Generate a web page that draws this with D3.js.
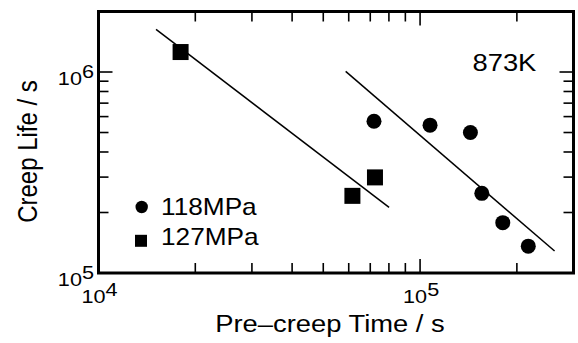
<!DOCTYPE html>
<html>
<head>
<meta charset="utf-8">
<script src="https://cdn.jsdelivr.net/npm/d3@7"></script>
<style>
  html, body { margin: 0; padding: 0; background: #fff; }
  svg { display: block; }
  text { font-family: "Liberation Sans", Arial, Helvetica, sans-serif; fill: #000; }
</style>
</head>
<body>
<svg id="chart" width="578" height="343"></svg>
<script>
// ---- data ----
const series118Time = [7.19e4, 1.074e5, 1.434e5, 1.556e5, 1.808e5, 2.17e5];
const series118Life = [5.69e5, 5.44e5, 5.0e5, 2.49e5, 1.78e5, 1.36e5];
const series127Time = [1.80e4, 6.16e4, 7.24e4];
const series127Life = [1.257e6, 2.42e5, 2.99e5];
const fit118Time = [5.87e4, 2.62e5];
const fit118Life = [1.008e6, 1.286e5];
const fit127Time = [1.51e4, 8.01e4];
const fit127Life = [1.63e6, 2.12e5];
const xMajorTicks = [1e4, 1e5];
const xMajorLabels = ["4", "5"];
const yMajorTicks = [1e5, 1e6];
const yMajorLabels = ["5", "6"];
const legendLabels = ["118MPa", "127MPa"];
const annotation = "873K";
const xTitle = "Pre\u2013creep Time / s";
const yTitle = "Creep Life / s";

// ---- layout ----
const L = 98.5, R = 573.5, T = 11.5, B = 273;
const SX = 1.14; // horizontal text stretch
const svg = d3.select("#chart");

const x = d3.scaleLog().domain([1e4, 3e5]).range([L, R]);
const y = d3.scaleLog().domain([1e5, 2e6]).range([B, T]);

// minor tick values
const xMinor = [];
for (let d = 1e4; d < 3e5; d *= 10) for (let k = 2; k <= 9; k++) { const v = d * k; if (v < 3e5) xMinor.push(v); }
const yMinor = [];
for (let d = 1e5; d < 2e6; d *= 10) for (let k = 2; k <= 9; k++) { const v = d * k; if (v < 2e6) yMinor.push(v); }

const majLen = 14, minLen = 10;
const tickG = svg.append("g").attr("stroke", "#000").attr("stroke-width", 1.6);
xMinor.forEach(v => {
  tickG.append("line").attr("x1", x(v)).attr("x2", x(v)).attr("y1", B).attr("y2", B - minLen);
  tickG.append("line").attr("x1", x(v)).attr("x2", x(v)).attr("y1", T).attr("y2", T + minLen);
});
xMajorTicks.forEach(v => {
  tickG.append("line").attr("x1", x(v)).attr("x2", x(v)).attr("y1", B).attr("y2", B - majLen);
  tickG.append("line").attr("x1", x(v)).attr("x2", x(v)).attr("y1", T).attr("y2", T + majLen);
});
yMinor.forEach(v => {
  tickG.append("line").attr("y1", y(v)).attr("y2", y(v)).attr("x1", L).attr("x2", L + minLen);
  tickG.append("line").attr("y1", y(v)).attr("y2", y(v)).attr("x1", R).attr("x2", R - minLen);
});
yMajorTicks.forEach(v => {
  tickG.append("line").attr("y1", y(v)).attr("y2", y(v)).attr("x1", L).attr("x2", L + majLen);
  tickG.append("line").attr("y1", y(v)).attr("y2", y(v)).attr("x1", R).attr("x2", R - majLen);
});

// frame
svg.append("rect").attr("x", L).attr("y", T).attr("width", R - L).attr("height", B - T)
  .attr("fill", "none").attr("stroke", "#000").attr("stroke-width", 3);

function stext(px, py, rot, anchor, size) {
  const g = svg.append("g").attr("transform", `translate(${px},${py}) scale(${SX},1)` + (rot ? ` rotate(${rot})` : ""));
  return g.append("text").attr("text-anchor", anchor).attr("font-size", size);
}

// tick labels
xMajorTicks.forEach((v, i) => {
  const t = stext(x(v) - 17, 302.5, 0, "start", 19);
  t.append("tspan").text("10");
  t.append("tspan").attr("dy", -7).text(xMajorLabels[i]);
});
yMajorTicks.forEach((v, i) => {
  const t = stext(94, y(v) + 13, 0, "end", 19);
  t.append("tspan").text("10");
  t.append("tspan").attr("dy", -7).text(yMajorLabels[i]);
});

// fit lines
const line = d3.line().x(d => x(d[0])).y(d => y(d[1]));
svg.append("path").datum(fit127Time.map((t, i) => [t, fit127Life[i]]))
  .attr("d", line).attr("fill", "none").attr("stroke", "#000").attr("stroke-width", 1.5);
svg.append("path").datum(fit118Time.map((t, i) => [t, fit118Life[i]]))
  .attr("d", line).attr("fill", "none").attr("stroke", "#000").attr("stroke-width", 1.5);

// points
svg.append("g").selectAll("circle").data(series118Time.map((t, i) => [t, series118Life[i]]))
  .join("circle").attr("cx", d => x(d[0])).attr("cy", d => y(d[1])).attr("r", 7.5).attr("fill", "#000");
const sq = 16;
svg.append("g").selectAll("rect").data(series127Time.map((t, i) => [t, series127Life[i]]))
  .join("rect").attr("x", d => x(d[0]) - sq / 2).attr("y", d => y(d[1]) - sq / 2)
  .attr("width", sq).attr("height", sq).attr("fill", "#000");

// legend
svg.append("circle").attr("cx", 141.7).attr("cy", 207).attr("r", 6.2).attr("fill", "#000");
svg.append("rect").attr("x", 135).attr("y", 234.8).attr("width", 12).attr("height", 12).attr("fill", "#000");
stext(161, 215, 0, "start", 23).text(legendLabels[0]);
stext(161, 245, 0, "start", 23).text(legendLabels[1]);

// annotation
stext(472.5, 70.5, 0, "start", 24).text(annotation);

// axis titles
stext(330, 331.5, 0, "middle", 24).text(xTitle);
stext(36.5, 151.5, -90, "middle", 24).text(yTitle);
</script>
</body>
</html>
